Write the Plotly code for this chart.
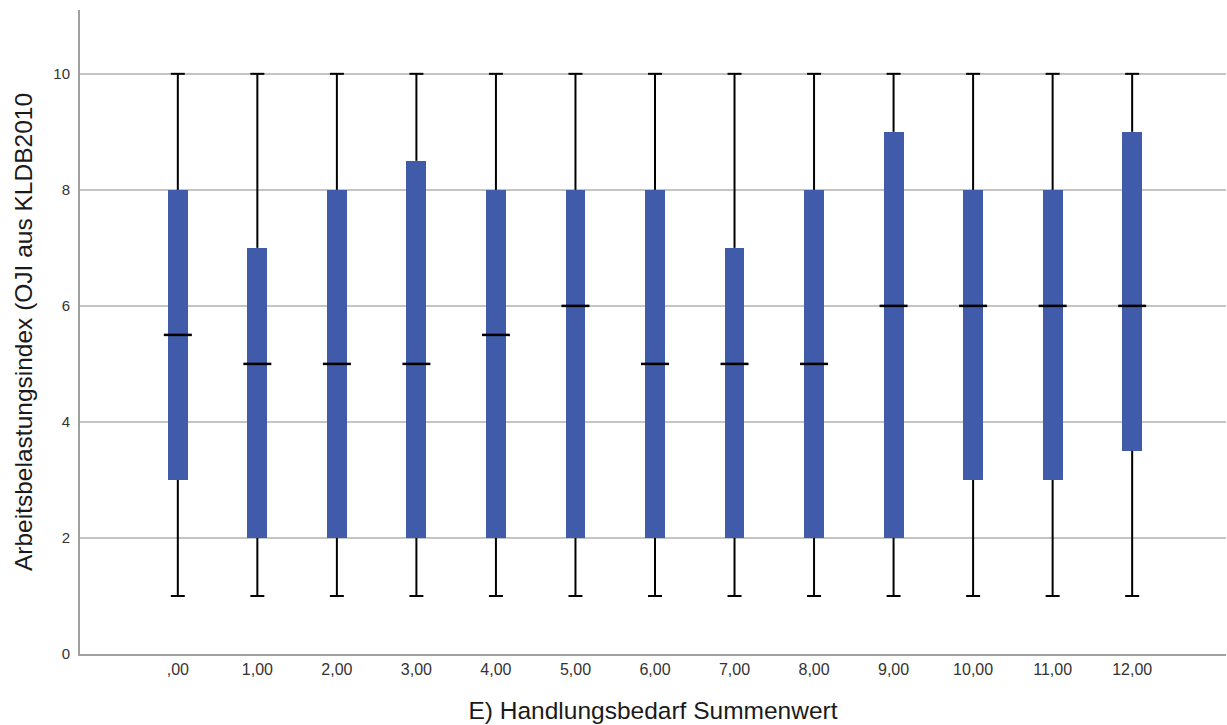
import plotly.graph_objects as go

categories = [",00", "1,00", "2,00", "3,00", "4,00", "5,00", "6,00", "7,00", "8,00", "9,00", "10,00", "11,00", "12,00"]
q1 = [3, 2, 2, 2, 2, 2, 2, 2, 2, 2, 3, 3, 3.5]
median = [5.5, 5, 5, 5, 5.5, 6, 5, 5, 5, 6, 6, 6, 6]
q3 = [8, 7, 8, 8.5, 8, 8, 8, 7, 8, 9, 8, 8, 9]
lower = [1] * 13
upper = [10] * 13

x = list(range(len(categories)))
BLUE = "#3F5BA9"

# whisker segments (from data, separated by gaps)
wx, wy = [], []
for i in x:
    wx += [i, i, None, i, i, None]
    wy += [q3[i], upper[i], None, lower[i], q1[i], None]

fig = go.Figure()
fig.add_trace(go.Scatter(
    x=wx, y=wy, mode="lines", line=dict(color="black", width=2),
    showlegend=False, hoverinfo="skip", connectgaps=False))
# caps
fig.add_trace(go.Scatter(
    x=x + x, y=upper + lower, mode="markers",
    marker=dict(symbol="line-ew", size=10, line=dict(color="black", width=2)),
    showlegend=False, hoverinfo="skip"))
# boxes
fig.add_trace(go.Bar(
    x=x, y=[b - a for a, b in zip(q1, q3)], base=q1, width=0.25,
    marker=dict(color=BLUE, line=dict(width=0)), showlegend=False))
# medians
fig.add_trace(go.Scatter(
    x=x, y=median, mode="markers",
    marker=dict(symbol="line-ew", size=20, line=dict(color="black", width=2.5)),
    showlegend=False))

fig.update_layout(
    width=1227, height=725,
    margin=dict(l=80, r=1, t=10, b=71),
    plot_bgcolor="white", paper_bgcolor="white",
    font=dict(family="Liberation Sans, Arial, sans-serif", color="#333333"),
    bargap=0,
)
fig.update_xaxes(
    range=[-1.23, 13.18], tickvals=x, ticktext=categories, automargin=False,
    showgrid=False, zeroline=False, showline=True, linecolor="#a0a0a0", linewidth=2,
    ticks="", tickfont=dict(size=16, color="#333333"),
    title=dict(text="E) Handlungsbedarf Summenwert", font=dict(size=24.5, color="#1a1a1a"), standoff=25),
)
fig.update_yaxes(
    range=[0, 11.1], tickvals=[0, 2, 4, 6, 8, 10], ticktext=["0", "2", "4", "6", "8", "10"],
    showgrid=True, gridcolor="#c4c4c4", gridwidth=1.5, zeroline=False, automargin=False,
    showline=True, linecolor="#a0a0a0", linewidth=2, ticks="", ticklabelstandoff=5,
    tickfont=dict(size=15, color="#333333"),
    title=dict(text="Arbeitsbelastungsindex (OJI aus KLDB2010", font=dict(size=24.5, color="#1a1a1a"), standoff=14),
)

fig.write_html(
    "out.html",
    config={"displayModeBar": False},
    post_script="document.body.style.margin='0';document.body.style.overflow='hidden';",
)
